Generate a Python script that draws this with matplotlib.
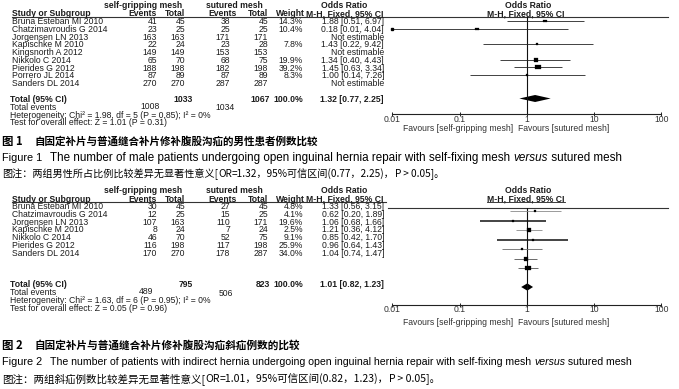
import matplotlib
matplotlib.use("Agg")
import matplotlib.pyplot as plt
from matplotlib.patches import Polygon

# ---------------- data ----------------
studies1 = ["Bruna Esteban MI 2010", "Chatzimavroudis G 2014", "Jorgensen LN 2013",
            "Kapischke M 2010", "Kingsnorth A 2012", "Nikkolo C 2014",
            "Pierides G 2012", "Porrero JL 2014", "Sanders DL 2014"]
sg_events1 = [41, 23, 163, 22, 149, 65, 188, 87, 270]
sg_total1 = [45, 25, 163, 24, 149, 70, 198, 89, 270]
su_events1 = [38, 25, 171, 23, 153, 68, 182, 87, 287]
su_total1 = [45, 25, 171, 28, 153, 75, 198, 89, 287]
weight1 = [14.3, 10.4, None, 7.8, None, 19.9, 39.2, 8.3, None]
or1 = [1.88, 0.18, None, 1.43, None, 1.34, 1.45, 1.00, None]
lo1 = [0.51, 0.01, None, 0.22, None, 0.40, 0.63, 0.14, None]
hi1 = [6.97, 4.04, None, 9.42, None, 4.43, 3.34, 7.26, None]
total1 = {"sg_total": 1033, "su_total": 1067, "sg_events": 1008, "su_events": 1034,
          "or": 1.32, "lo": 0.77, "hi": 2.25}
het1 = "Heterogeneity: Chi\u00b2 = 1.98, df = 5 (P = 0.85); I\u00b2 = 0%"
test1 = "Test for overall effect: Z = 1.01 (P = 0.31)"

studies2 = ["Bruna Esteban MI 2010", "Chatzimavroudis G 2014", "Jorgensen LN 2013",
            "Kapischke M 2010", "Nikkolo C 2014", "Pierides G 2012", "Sanders DL 2014"]
sg_events2 = [30, 12, 107, 8, 46, 116, 170]
sg_total2 = [45, 25, 163, 24, 70, 198, 270]
su_events2 = [27, 15, 110, 7, 52, 117, 178]
su_total2 = [45, 25, 171, 24, 75, 198, 287]
weight2 = [4.8, 4.1, 19.6, 2.5, 9.1, 25.9, 34.0]
or2 = [1.33, 0.62, 1.06, 1.21, 0.85, 0.96, 1.04]
lo2 = [0.56, 0.20, 0.68, 0.36, 0.42, 0.64, 0.74]
hi2 = [3.15, 1.89, 1.66, 4.12, 1.70, 1.43, 1.47]
total2 = {"sg_total": 795, "su_total": 823, "sg_events": 489, "su_events": 506,
          "or": 1.01, "lo": 0.82, "hi": 1.23}
het2 = "Heterogeneity: Chi\u00b2 = 1.63, df = 6 (P = 0.95); I\u00b2 = 0%"
test2 = "Test for overall effect: Z = 0.05 (P = 0.96)"

tick_vals = [0.01, 0.1, 1, 10, 100]
tick_labels = ["0.01", "0.1", "1", "10", "100"]

cap1_title = ("图 1", "自固定补片与普通缝合补片修补腹股沟疝的男性患者例数比较")
cap1_en = ("Figure 1", [("The number of male patients undergoing open inguinal hernia repair with self-fixing mesh ", "normal"),
                        ("versus", "italic"), (" sutured mesh", "normal")])
cap1_note = [("图注：两组男性所占比例比较差异无显著性意义[", "normal"), ("OR", "italic"),
             ("=1.32，95%可信区间(0.77，2.25)，", "normal"), ("P", "italic"), (" > 0.05]。", "normal")]
cap2_title = ("图 2", "自固定补片与普通缝合补片修补腹股沟疝斜疝例数的比较")
cap2_en = ("Figure 2", [("The number of patients with indirect hernia undergoing open inguinal hernia repair with self-fixing mesh ", "normal"),
                        ("versus", "italic"), (" sutured mesh", "normal")])
cap2_note = [("图注：两组斜疝例数比较差异无显著性意义[", "normal"), ("OR", "italic"),
             ("=1.01，95%可信区间(0.82，1.23)，", "normal"), ("P", "italic"), (" > 0.05]。", "normal")]

# ---------------- setup ----------------
W, H = 679, 389
fig = plt.figure(figsize=(W / 100, H / 100), dpi=100)
fig.patch.set_facecolor("white")
bg = fig.add_axes([0, 0, 1, 1])
bg.set_xlim(0, W)
bg.set_ylim(H, 0)
bg.axis("off")
R = fig.canvas.get_renderer()

LAT = ["Liberation Sans", "DejaVu Sans"]
CJK = ["Noto Sans CJK SC", "Liberation Sans", "DejaVu Sans"]
TXT = "#1c1c1c"


def width_of(s, size, family, weight="normal", style="normal"):
    t = bg.text(0, 0, s, fontsize=size, family=family, weight=weight, style=style)
    w = t.get_window_extent(R).width
    t.remove()
    return w


def rich(x, y, segs, size, family, weight="normal", color="k"):
    for s, st in segs:
        t = bg.text(x, y, s, fontsize=size, family=family, weight=weight, style=st,
                    va="center", ha="left", color=color)
        x += t.get_window_extent(R).width
    return x


def rich_fit(x, y, segs, x_end, family, weight="normal", color="k"):
    w10 = sum(width_of(s, 10, family, weight, st) for s, st in segs)
    size = 10 * (x_end - x) / w10
    rich(x, y, segs, size, family, weight, color)
    return size


FS = 10 * 91 / width_of("Bruna Esteban MI 2010", 10, LAT)


def T(x, y, s, ha="left", bold=False, color=TXT, size=None):
    bg.text(x, y, s, ha=ha, va="center", fontsize=size or FS, family=LAT,
            weight="bold" if bold else "normal", color=color)


# column positions (px)
X_NAME, X_SE, X_ST, X_UE, X_UT, X_W, X_OR = 12, 157, 185, 230, 268, 303, 384
X_LOG0, X_LOG1 = 392.5, 661.5  # positions of 0.01 and 100


def fmt_or(o, l, h):
    if o is None:
        return "Not estimable"
    return f"{o:.2f} [{l:.2f}, {h:.2f}]"


def draw_panel(L, studies, se, st, ue, ut, wt, orv, lo, hi, tot, het, test, ci_styles):
    # headers
    T(143, L["h1"], "self-gripping mesh", ha="center", bold=True)
    T(234, L["h1"], "sutured mesh", ha="center", bold=True)
    T(344, L["h1"], "Odds Ratio", ha="center", bold=True)
    T(X_NAME, L["h2"], "Study or Subgroup", bold=True)
    T(X_SE, L["h2"], "Events", ha="right", bold=True)
    T(X_ST, L["h2"], "Total", ha="right", bold=True)
    T(X_UE + 7, L["h2"], "Events", ha="right", bold=True)
    T(X_UT, L["h2"], "Total", ha="right", bold=True)
    T(X_W + 2, L["h2"], "Weight", ha="right", bold=True)
    T(X_OR, L["h2"], "M-H, Fixed, 95% CI", ha="right", bold=True)
    T(528, L["h1"], "Odds Ratio", ha="center", bold=True)
    T(526, L["h2"], "M-H, Fixed, 95% CI", ha="center", bold=True)
    wmh = width_of("M-H, Fixed, 95% CI", FS, LAT, "bold")
    bg.plot([526 - wmh / 2, 526 + wmh / 2], [L["h2"] + 3.2] * 2, color=TXT, lw=0.6)
    bg.plot([X_NAME, L["tline_end"]], [L["tline"]] * 2, color="#333333", lw=0.8)
    if L["fline"] != L["tline"]:
        bg.plot([388, 668], [L["fline"]] * 2, color="#333333", lw=0.8)

    # rows
    for i, name in enumerate(studies):
        y = L["row0"] + i * L["step"]
        T(X_NAME, y, name)
        T(X_SE, y, str(se[i]), ha="right")
        T(X_ST, y, str(st[i]), ha="right")
        T(X_UE, y, str(ue[i]), ha="right")
        T(X_UT, y, str(ut[i]), ha="right")
        if wt[i] is not None:
            T(X_W, y, f"{wt[i]:.1f}%", ha="right")
        T(X_OR, y, fmt_or(orv[i], lo[i], hi[i]), ha="right")

    # totals
    T(10, L["tot"], "Total (95% CI)", bold=True)
    T(X_ST + 8, L["tot"], str(tot["sg_total"]), ha="right", bold=True)
    T(X_UT + 2, L["tot"], str(tot["su_total"]), ha="right", bold=True)
    T(X_W, L["tot"], "100.0%", ha="right", bold=True)
    T(X_OR, L["tot"], fmt_or(tot["or"], tot["lo"], tot["hi"]), ha="right", bold=True)
    T(10, L["tev"], "Total events")
    T(L["tev_x1"], L["tev"] - 0.5, str(tot["sg_events"]), ha="right")
    T(L["tev_x2"], L["tev"] + 0.8, str(tot["su_events"]), ha="right")
    T(10, L["het"], het)
    T(10, L["test"], test)

    # forest plot axes (y in pixel units)
    y0, y1 = L["fline"], L["axis"]
    ax = fig.add_axes([X_LOG0 / W, 1 - y1 / H, (X_LOG1 - X_LOG0) / W, (y1 - y0) / H])
    ax.set_xscale("log")
    ax.set_xlim(0.01, 100)
    ax.set_ylim(y1, y0)
    ax.patch.set_alpha(0)
    for s in ("top", "right", "left"):
        ax.spines[s].set_visible(False)
    ax.spines["bottom"].set_linewidth(0.8)
    ax.spines["bottom"].set_color("#222222")
    ax.set_yticks([])
    ax.set_xticks(tick_vals)
    ax.set_xticklabels(tick_labels, fontsize=FS, family=LAT, color="#333333")
    ax.minorticks_off()
    ax.tick_params(axis="x", direction="inout", length=3, width=0.7, pad=-1.2, color="#222222")
    ax.axvline(1, color="#111111", lw=0.8)

    for i in range(len(studies)):
        if orv[i] is None:
            continue
        y = L["frow0"] + i * L["fstep"]
        col, lw = ci_styles[i]
        ax.plot([lo[i], hi[i]], [y, y], color=col, lw=lw, solid_capstyle="butt", clip_on=False)
        wpx = 0.95 * wt[i] ** 0.5
        ax.plot([orv[i]], [y], marker=[(-1, -0.72), (1, -0.72), (1, 0.72), (-1, 0.72), (-1, -0.72)],
                ms=wpx * 0.72, color="k", mec="k", mew=0.2, clip_on=False)
        if lo[i] <= 0.0101:
            ax.plot([lo[i]], [y], marker="s", ms=1.6, color="k", clip_on=False)
    yc = L["diam"]
    hh = L["diam_h"] / 2
    ax.add_patch(Polygon([(tot["lo"], yc), (tot["or"], yc - hh), (tot["hi"], yc), (tot["or"], yc + hh)],
                         closed=True, color="k", lw=0))

    T(513, L["fav"], "Favours [self-gripping mesh]", ha="right", color="#333333")
    T(518, L["fav"], "Favours [sutured mesh]", ha="left", color="#333333")


L1 = dict(h1=5.5, h2=13.8, tline=16.8, tline_end=668, fline=16.8, row0=21.7, step=7.75,
          tot=99.3, tev=107.0, het=115.0, test=122.9, tev_x1=160, tev_x2=235,
          frow0=21.0, fstep=7.75, diam=98.5, diam_h=7, axis=114.3, fav=128.8)
L2 = dict(h1=190.3, h2=199.0, tline=202.3, tline_end=386, fline=207.5, row0=206.7, step=7.75,
          tot=284.3, tev=292.3, het=300.5, test=308.2, tev_x1=153, tev_x2=233,
          frow0=211.0, fstep=9.55, diam=287, diam_h=7.3, axis=304.8, fav=322.2)

styles1 = [("#222222", 0.6)] * len(studies1)
styles2 = [("#8a8a8a", 0.6), ("#111111", 1.1), ("#8a8a8a", 0.6), ("#111111", 1.1),
           ("#6a6a6a", 0.6), ("#6a6a6a", 0.7), ("#6a6a6a", 0.7)]

draw_panel(L1, studies1, sg_events1, sg_total1, su_events1, su_total1, weight1, or1, lo1, hi1,
           total1, het1, test1, styles1)
draw_panel(L2, studies2, sg_events2, sg_total2, su_events2, su_total2, weight2, or2, lo2, hi2,
           total2, het2, test2, styles2)


def caption(ys, title, en, note, title_end, en_end, note_end):
    bg.text(2, ys[0], title[0], fontsize=8.2, family=CJK, weight="bold", va="center")
    rich_fit(35, ys[0], [(title[1], "normal")], title_end, CJK, weight="bold")
    bg.text(2, ys[1], en[0], fontsize=7.8, family=LAT, va="center")
    rich_fit(50, ys[1], en[1], en_end, LAT)
    rich_fit(2, ys[2], note, note_end, CJK)


caption([141, 158, 174], cap1_title, cap1_en, cap1_note, 320, 625, 443)
caption([345, 362, 379], cap2_title, cap2_en, cap2_note, 300, 633, 440)

fig.savefig("out.png", dpi=100, facecolor="white")
